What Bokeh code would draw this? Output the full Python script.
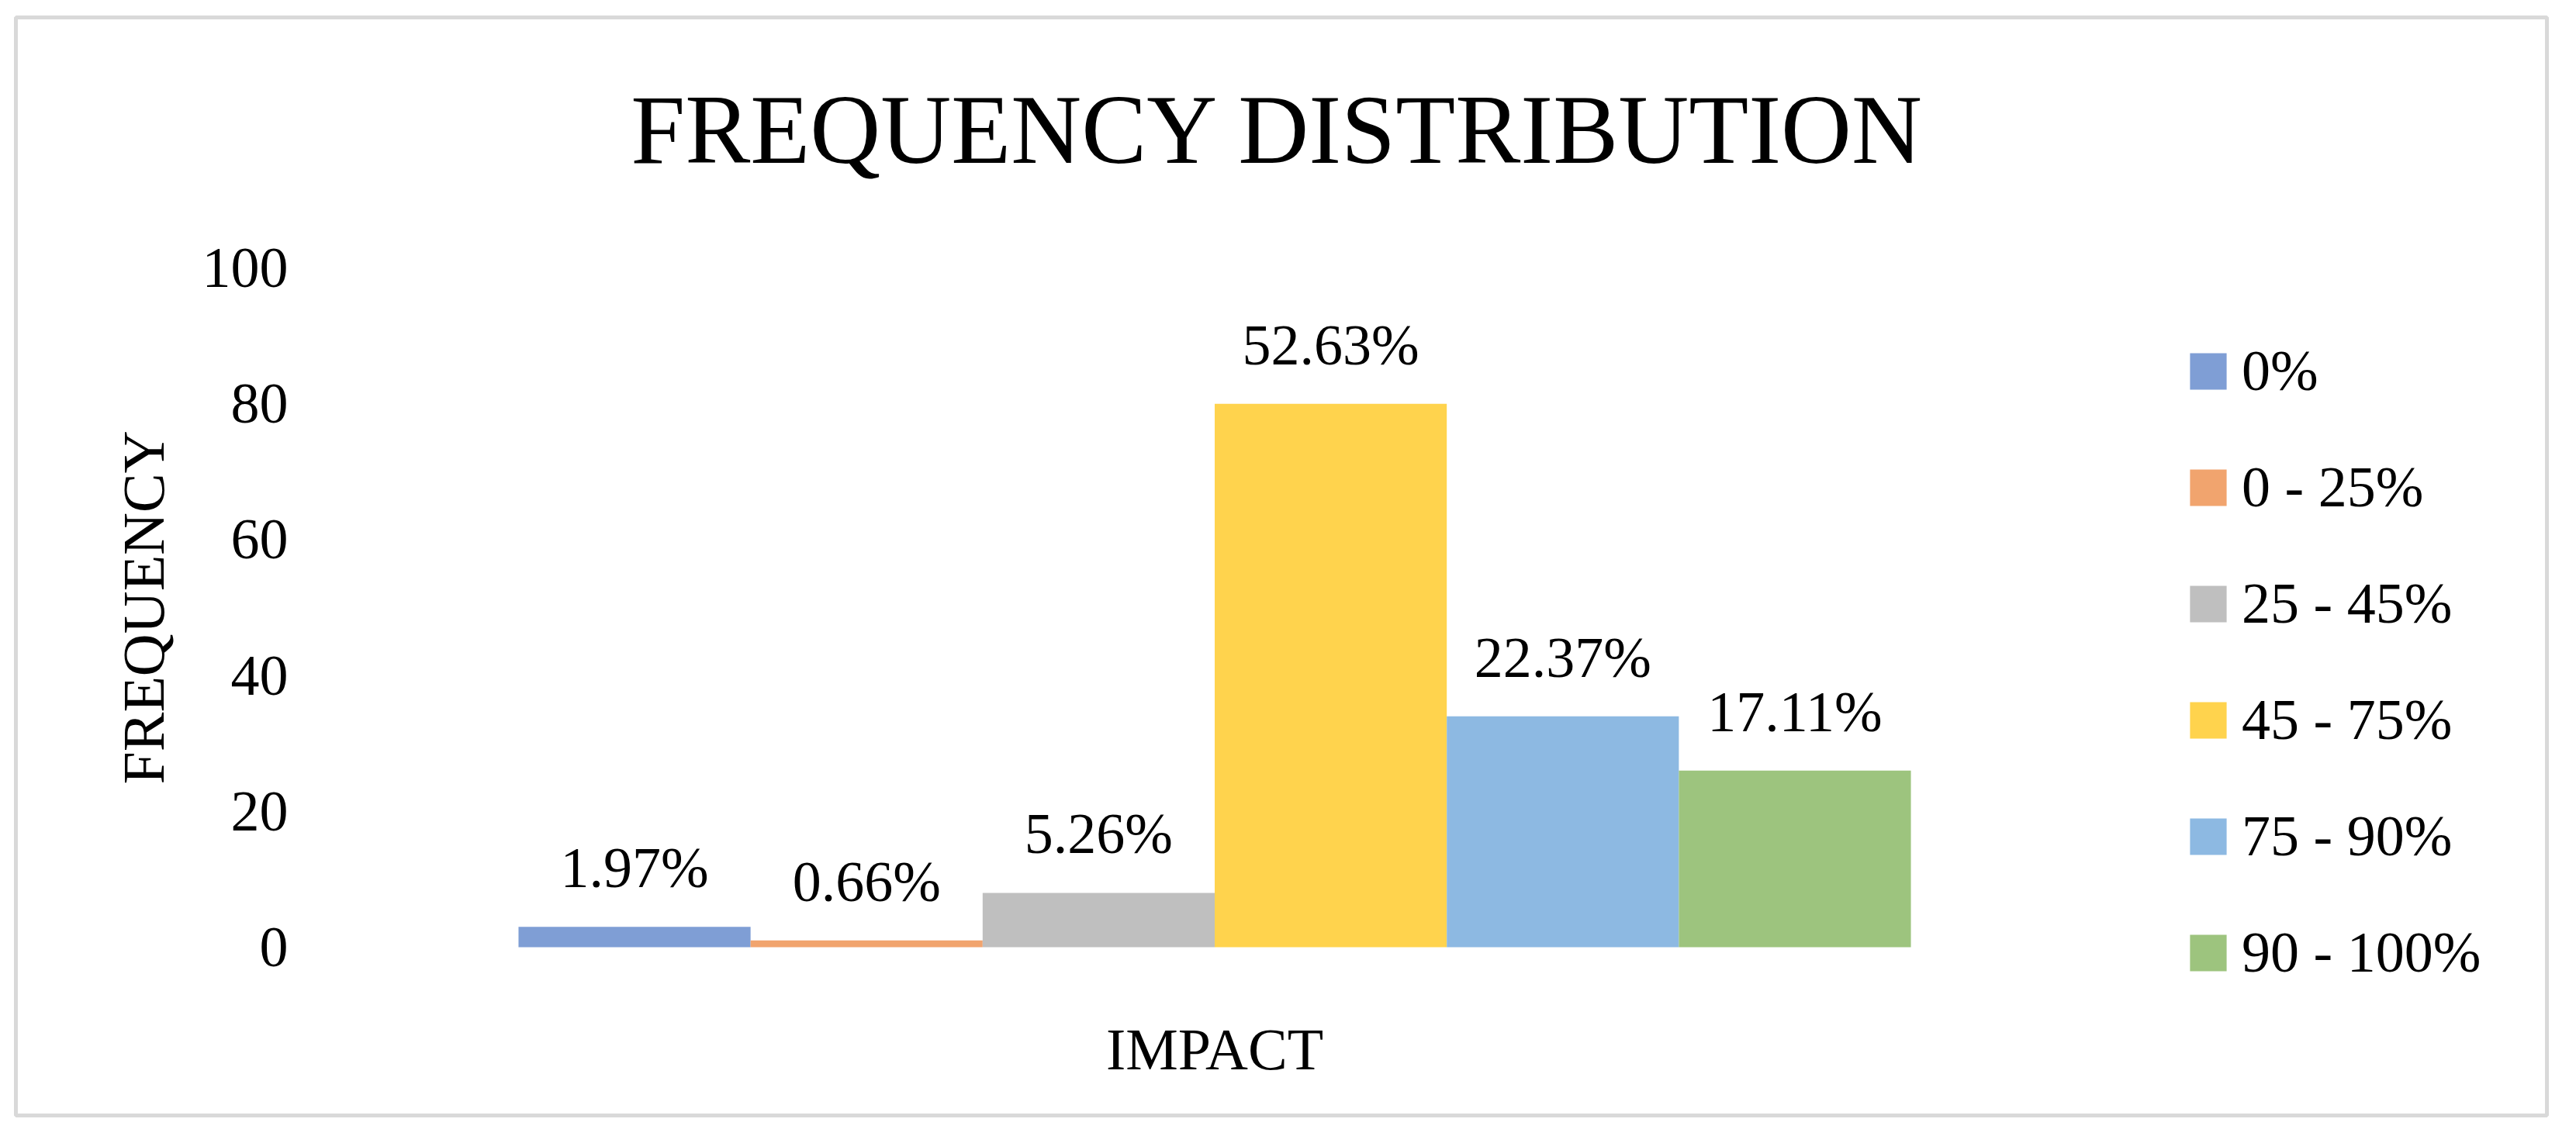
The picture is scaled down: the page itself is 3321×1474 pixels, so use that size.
from bokeh.plotting import figure
from bokeh.models import (Range1d, FixedTicker, LabelSet, ColumnDataSource,
                          Legend, LegendItem, Label)
from bokeh.core.properties import value
from bokeh.embed import file_html
from bokeh.resources import INLINE

# ---- data ----
series_names = ["0%", "0 - 25%", "25 - 45%", "45 - 75%", "75 - 90%", "90 - 100%"]
frequencies = [3, 1, 8, 80, 34, 26]
pct_labels = ["1.97%", "0.66%", "5.26%", "52.63%", "22.37%", "17.11%"]
bar_colors = ["#7F9ED5", "#F1A46E", "#BFBFBF", "#FFD34D", "#8DB9E2", "#9DC47E"]
category = ["IMPACT"]
y_ticks = [0, 20, 40, 60, 80, 100]
chart_title = "FREQUENCY DISTRIBUTION"

FONT = "Liberation Serif"
idx = list(range(len(series_names)))

# the plot frame covers the whole chart box; its outline is the chart border
p = figure(width=3300, height=1452, output_backend="svg", toolbar_location=None,
           title=None,
           x_range=Range1d(-2.6658, 8.2406), y_range=Range1d(-24.77, 136.87),
           min_border_left=20, min_border_right=17,
           min_border_top=22, min_border_bottom=14)
p.outline_line_color = "#D9D9D9"
p.outline_line_width = 5
p.xgrid.visible = False
p.ygrid.visible = False
p.background_fill_color = "white"
p.border_fill_color = "white"

# bars (one renderer per series so the legend keeps the order)
items = []
for i in idx:
    src = ColumnDataSource(dict(x=[idx[i]], top=[frequencies[i]]))
    r = p.vbar(x="x", top="top", bottom=0, width=1.0, source=src,
               fill_color=bar_colors[i], line_color=None)
    items.append(LegendItem(label=series_names[i], renderers=[r]))

# data labels
lab_src = ColumnDataSource(dict(x=idx, y=frequencies, text=pct_labels))
labels = LabelSet(x="x", y="y", text="text", source=lab_src,
                  text_align="center", text_baseline="alphabetic", y_offset=51,
                  text_font=value(FONT), text_font_size="74px", text_color="black")
p.add_layout(labels)

# title
title = Label(x=1627.5, y=1271, x_units="screen", y_units="screen",
              text=chart_title, text_align="center", text_baseline="alphabetic",
              text_font=FONT, text_font_size="126px", text_color="black")
p.add_layout(title)

# y axis, drawn at the left edge of the bar area
ya = p.yaxis[0]
ya.fixed_location = -1.2487
ya.bounds = (y_ticks[0], y_ticks[-1])
ya.ticker = FixedTicker(ticks=y_ticks)
ya.axis_line_color = None
ya.major_tick_out = 0
ya.major_tick_in = 0
ya.minor_tick_out = 0
ya.minor_tick_in = 0
ya.major_label_standoff = 73
ya.major_label_text_font = FONT
ya.major_label_text_font_size = "74px"
ya.major_label_text_color = "black"
ya.axis_label = "FREQUENCY"
ya.axis_label_text_font = FONT
ya.axis_label_text_font_size = "76px"
ya.axis_label_text_font_style = "normal"
ya.axis_label_text_color = "black"
ya.axis_label_standoff = 31

# x axis at y = 0 (single category centred under the bar cluster)
xa = p.xaxis[0]
xa.fixed_location = 0
center = (idx[0] + idx[-1]) / 2
xa.ticker = FixedTicker(ticks=[center])
xa.major_label_overrides = {center: category[0]}
xa.axis_line_color = None
xa.major_tick_out = 0
xa.major_tick_in = 0
xa.minor_tick_out = 0
xa.minor_tick_in = 0
xa.major_label_standoff = 89
xa.major_label_text_font = FONT
xa.major_label_text_font_size = "76px"
xa.major_label_text_color = "black"

# legend
legend = Legend(items=items, location=(2797, 167), orientation="vertical",
                glyph_width=59, glyph_height=59, label_standoff=14,
                label_height=47, spacing=65, padding=0, margin=0,
                border_line_color=None, background_fill_alpha=0,
                label_text_font=FONT, label_text_font_size="74px",
                label_text_color="black")
p.add_layout(legend)

open("out.html", "w").write(file_html(p, INLINE))
